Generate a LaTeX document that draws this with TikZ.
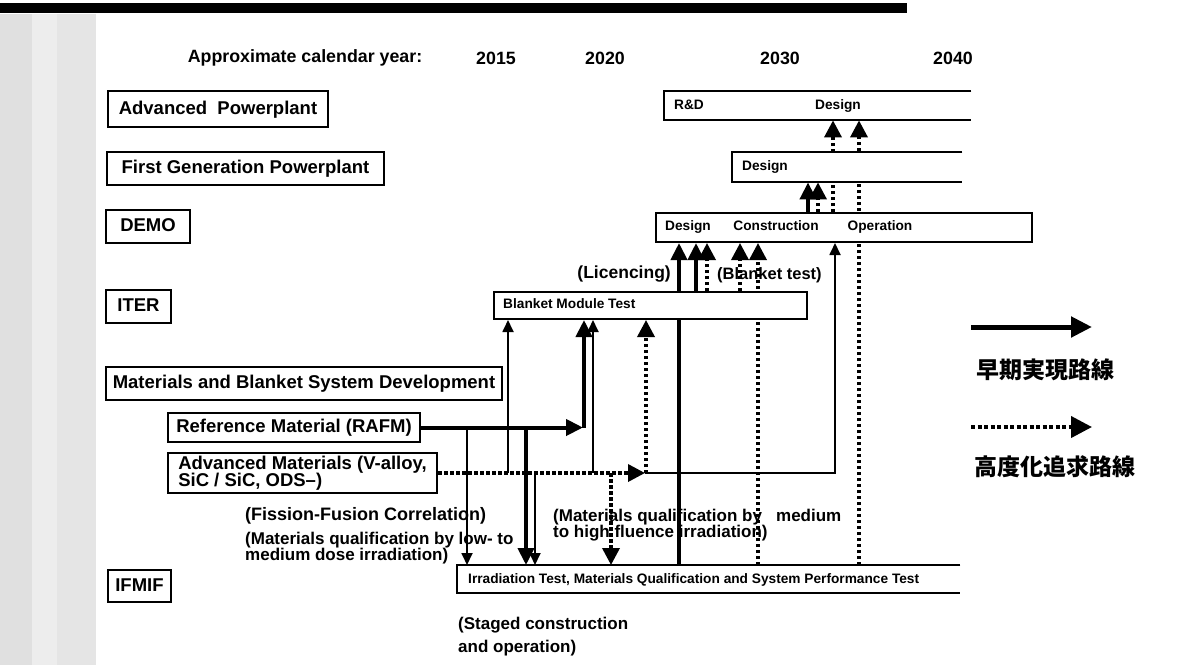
\documentclass[tikz,border=0pt]{standalone}
\usepackage{fontspec}
\setmainfont{Liberation Sans}
\newfontfamily\cjkfont{Noto Sans CJK JP}
\usetikzlibrary{arrows.meta,backgrounds}
\newcommand\labfont{\fontsize{18.5}{17}\selectfont\bfseries\lineskiplimit=-100pt\relax}
\newcommand\hdrfont{\fontsize{17.8}{20}\selectfont\bfseries}
\newcommand\barfont{\fontsize{13.7}{15}\selectfont\bfseries}
\newcommand\annfont{\fontsize{17}{15.5}\selectfont\bfseries\lineskiplimit=-100pt\relax}
\newcommand\legfont{\cjkfont\fontsize{23}{25}\selectfont\bfseries}
\begin{document}
\begin{tikzpicture}[x=1pt,y=-1pt,
  lblbase/.style={draw, line width=2pt, fill=white, font=\labfont, anchor=west, inner sep=0pt, minimum height=33pt},
  lbl/.style={lblbase, text height=13.5pt, text depth=3.5pt},
  barbox/.style={fill=white, inner sep=0pt, anchor=north west},
  bartxt/.style={font=\barfont, inner sep=0pt, text height=10pt, text depth=3pt},
  anntxt/.style={font=\annfont, inner sep=0pt, align=left},
  edgeline/.style={line width=2pt},
  thk/.style={line width=4pt, -{Triangle[length=17pt,width=16pt]}},
  thn/.style={line width=1.8pt, -{Triangle[length=12pt,width=11pt]}},
  dtd/.style={line width=3.5pt, dash pattern=on 3.5pt off 2.5pt, -{Triangle[length=17pt,width=17pt]}}
]
\useasboundingbox (0,0) rectangle (1182,665);

% header
\fill[black] (0,3) rectangle (907,12.5);
\node[font=\hdrfont, inner sep=0pt] (hdr) at (305,58) {Approximate calendar year:};
\node[font=\hdrfont, inner sep=0pt] (y2015) at (496,58) {2015};
\node[font=\hdrfont, inner sep=0pt] (y2020) at (605,58) {2020};
\node[font=\hdrfont, inner sep=0pt] (y2030) at (780,58) {2030};
\node[font=\hdrfont, inner sep=0pt] (y2040) at (953,58) {2040};

% left labels
\node[lbl, minimum width=220pt, minimum height=36pt] (advpp) at (107,109) {Advanced\ \ Powerplant};
\node[lbl, minimum width=277pt] (fgpp) at (106,168.5) {First Generation Powerplant};
\node[lbl, minimum width=84pt] (demo) at (105,226.5) {DEMO};
\node[lbl, minimum width=65pt] (iter) at (105,306.5) {ITER};
\node[lbl, minimum width=396pt] (mbsd) at (105,383.5) {Materials and Blanket System Development};
\node[lbl, minimum width=252pt, minimum height=29pt] (rafm) at (167,427.5) {Reference Material (RAFM)};
\node[lblbase, minimum width=269pt, minimum height=40pt, align=left] (advmat) at (167,473) {Advanced Materials (V-alloy,\\SiC / SiC, ODS--)};
\node[lbl, minimum width=63pt, minimum height=32pt] (ifmif) at (107,586) {IFMIF};

% bars
\node[barbox, minimum width=307pt, minimum height=29pt] (advbar) at (664,91) {};
\draw[edgeline] (advbar.north east) -- (advbar.north west) -- (advbar.south west) -- (advbar.south east);
\node[barbox, minimum width=230pt, minimum height=30pt] (fgbar) at (732,152) {};
\draw[edgeline] (fgbar.north east) -- (fgbar.north west) -- (fgbar.south west) -- (fgbar.south east);
\node[barbox, draw, line width=2pt, minimum width=376pt, minimum height=29pt] (demobar) at (655,212) {};
\node[barbox, draw, line width=2pt, minimum width=313pt, minimum height=27pt] (blanket) at (493,291) {};
\node[barbox, minimum width=503pt, minimum height=28pt] (ifmifbar) at (457,565) {};
\draw[edgeline] (ifmifbar.north east) -- (ifmifbar.north west) -- (ifmifbar.south west) -- (ifmifbar.south east);

% bar texts
\node[bartxt] (advrd) at (689,106) {R\&D};
\node[bartxt] (advdes) at (838,106) {Design};
\node[bartxt] (fgdes) at (765,167) {Design};
\node[bartxt] (demodes) at (688,227) {Design};
\node[bartxt] (democon) at (776,227) {Construction};
\node[bartxt] (demoop) at (880,227) {Operation};
\node[bartxt, anchor=west] (blktxt) at (503,305) {Blanket Module Test};
\node[bartxt, anchor=west] (ifmtxt) at (468,580) {Irradiation Test, Materials Qualification and System Performance Test};

% annotations
\node[anntxt, anchor=east, font=\fontsize{17.5}{14}\selectfont\bfseries] (licn) at (671,274) {(Licencing)};
\node[anntxt, anchor=west, font=\fontsize{16.5}{14}\selectfont\bfseries] (blkt) at (717,275) {(Blanket test)};
\node[anntxt, anchor=west, font=\fontsize{18}{14}\selectfont\bfseries] (ffc) at (245,516) {(Fission-Fusion Correlation)};
\node[anntxt, anchor=west] (lowq) at (245,548) {(Materials qualification by low- to\\medium dose irradiation)};
\node[anntxt, anchor=west] (highq) at (553,525) {(Materials qualification by~~~medium\\to high fluence irradiation)};
\node[anntxt, anchor=west, font=\fontsize{17}{23}\selectfont\bfseries] (staged) at (458,637) {(Staged construction\\and operation)};

% legend
\coordinate (lgAs) at (971,327);
\coordinate (lgAe) at (1092,327);
\draw[line width=5pt, -{Triangle[length=21pt,width=20pt]}] (lgAs) -- (lgAe);
\node[font=\legfont, inner sep=0pt] (lgA) at (1045,370) {早期実現路線};
\coordinate (lgBs) at (971,427);
\coordinate (lgBe) at (1092,427);
\draw[line width=4pt, dash pattern=on 4pt off 2.5pt, -{Triangle[length=21pt,width=21pt]}] (lgBs) -- (lgBe);
\node[font=\legfont, inner sep=0pt] (lgB) at (1055,467) {高度化追求路線};

\begin{pgfonlayer}{background}
\fill[white] (0,0) rectangle (1182,665);
% scanned left strip
\fill[black!12] (0,14) rectangle (32,665);
\fill[black!7] (32,14) rectangle (57,665);
\fill[black!10] (57,14) rectangle (96,665);

% RAFM (reference material) routes
\coordinate (rafmTip) at (583,427.5);
\draw[thk] (rafm.east) -- (rafmTip);
\coordinate (rUp) at (584,427.5);
\draw[thk] (rUp) -- (rUp |- blanket.south);
\coordinate (rDn) at (526,427.5);
\draw[thk] (rDn) -- (rDn |- ifmifbar.north);
\coordinate (rDn2) at (467,427.5);
\draw[thn] (rDn2) -- (rDn2 |- ifmifbar.north);

% advanced materials routes
\coordinate (dEnd) at (645,473);
\draw[dtd] (advmat.east) -- (dEnd);
\coordinate (aU1) at (508,473);
\draw[thn] (aU1) -- (aU1 |- blanket.south);
\coordinate (aU2) at (593,473);
\draw[thn] (aU2) -- (aU2 |- blanket.south);
\coordinate (aD1) at (535,473);
\draw[thn] (aD1) -- (aD1 |- ifmifbar.north);
\coordinate (aD2) at (611,473);
\draw[dtd] (aD2) -- (aD2 |- ifmifbar.north);
\coordinate (aU3) at (646,473);
\draw[dtd] (aU3) -- (aU3 |- blanket.south);
\coordinate (opC) at (835,473);
\draw[thn] (dEnd) -- (opC) -- (opC |- demobar.south);

% upward routes to DEMO and powerplants
\coordinate (v679) at (679,400);
\draw[thk] (v679 |- ifmifbar.north) -- (v679 |- demobar.south);
\coordinate (v696) at (696,260);
\draw[thk] (v696 |- blanket.north) -- (v696 |- demobar.south);
\coordinate (v707) at (707,260);
\draw[dtd] (v707 |- blanket.north) -- (v707 |- demobar.south);
\coordinate (v740) at (740,260);
\draw[dtd] (v740 |- blanket.north) -- (v740 |- demobar.south);
\coordinate (v758) at (758,400);
\draw[dtd] (v758 |- ifmifbar.north) -- (v758 |- demobar.south);
\coordinate (v859) at (859,400);
\draw[dtd] (v859 |- ifmifbar.north) -- (v859 |- advbar.south);
\coordinate (v833) at (833,150);
\draw[dtd] (v833 |- demobar.north) -- (v833 |- advbar.south);
\coordinate (v808) at (808,200);
\draw[thk] (v808 |- demobar.north) -- (v808 |- fgbar.south);
\coordinate (v818) at (818,200);
\draw[dtd] (v818 |- demobar.north) -- (v818 |- fgbar.south);
\end{pgfonlayer}
\end{tikzpicture}
\end{document}
